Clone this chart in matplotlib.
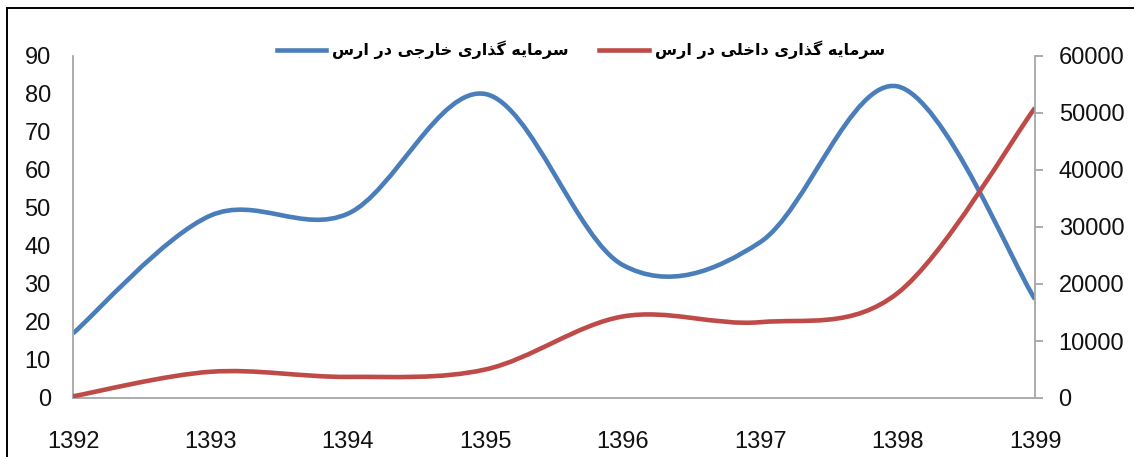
import numpy as np
import matplotlib.pyplot as plt
from matplotlib.path import Path
from matplotlib.patches import PathPatch, Rectangle
from matplotlib.lines import Line2D

# data
years = [1392, 1393, 1394, 1395, 1396, 1397, 1398, 1399]
foreign = [17, 48, 48.5, 80, 35, 41, 82, 26]          # left axis
domestic = [300, 4600, 3700, 5000, 14300, 13300, 18400, 50900]  # right axis
label_foreign = "سرمایه گذاری خارجی در ارس"
label_domestic = "سرمایه گذاری داخلی در ارس"

blue = "#4a7ebb"
red = "#be4b48"
grey = "#a6a6a6"

# matplotlib has no arabic shaping, so pick presentation forms by hand
# (isolated, final, initial, medial) ; None = letter joins only to the right
forms = {
    "س": ("\ufeb1", "\ufeb2", "\ufeb3", "\ufeb4"),
    "ر": ("\ufead", "\ufeae", None, None),
    "م": ("\ufee1", "\ufee2", "\ufee3", "\ufee4"),
    "ا": ("\ufe8d", "\ufe8e", None, None),
    "ی": ("\ufbfc", "\ufbfd", "\ufbfe", "\ufbff"),
    "ه": ("\ufee9", "\ufeea", "\ufeeb", "\ufeec"),
    "گ": ("\ufb92", "\ufb93", "\ufb94", "\ufb95"),
    "ذ": ("\ufeab", "\ufeac", None, None),
    "خ": ("\ufea5", "\ufea6", "\ufea7", "\ufea8"),
    "ج": ("\ufe9d", "\ufe9e", "\ufe9f", "\ufea0"),
    "د": ("\ufea9", "\ufeaa", None, None),
    "ل": ("\ufedd", "\ufede", "\ufedf", "\ufee0"),
}


def shape(text):
    out = []
    for i, ch in enumerate(text):
        if ch not in forms:
            out.append(ch)
            continue
        prev = text[i - 1] if i > 0 else " "
        nxt = text[i + 1] if i < len(text) - 1 else " "
        join_prev = prev in forms and forms[prev][2] is not None
        join_next = nxt in forms and forms[ch][2] is not None
        f = forms[ch]
        if join_prev and join_next:
            out.append(f[3])
        elif join_prev:
            out.append(f[1])
        elif join_next:
            out.append(f[2])
        else:
            out.append(f[0])
    return "".join(out)[::-1]


def smooth_path(xs, ys):
    # cubic bezier through the points (excel style smoothed line)
    p = np.column_stack([xs, ys]).astype(float)
    n = len(p)
    verts = [p[0]]
    codes = [Path.MOVETO]
    for i in range(n - 1):
        a = p[i - 1] if i > 0 else p[i]
        d = p[i + 2] if i + 2 < n else p[i + 1]
        c1 = p[i] + (p[i + 1] - a) / 6
        c2 = p[i + 1] - (d - p[i]) / 6
        verts += [c1, c2, p[i + 1]]
        codes += [Path.CURVE4] * 3
    return Path(verts, codes)


plt.rcParams["font.family"] = ["Liberation Sans", "DejaVu Sans"]

fig = plt.figure(figsize=(11.34, 4.57), dpi=100)
ax = fig.add_axes([73 / 1134, 1 - 398 / 457, (1035 - 73) / 1134, 342 / 457])
ax2 = ax.twinx()

ax.add_patch(PathPatch(smooth_path(years, foreign), fill=False,
                       edgecolor=blue, lw=3.3, capstyle="butt"))
ax2.add_patch(PathPatch(smooth_path(years, domestic), fill=False,
                        edgecolor=red, lw=3.3, capstyle="butt"))

ax.set_xlim(1392, 1399)
ax.set_ylim(0, 90)
ax2.set_ylim(0, 60000)
ax.set_xticks(years)
ax.set_yticks(range(0, 91, 10))
ax2.set_yticks(range(0, 60001, 10000))

for a in (ax, ax2):
    a.spines["top"].set_visible(False)
    for s in ("left", "right", "bottom"):
        a.spines[s].set_color(grey)
        a.spines[s].set_linewidth(1.3)
ax.spines["right"].set_visible(False)
ax2.spines["left"].set_visible(False)
ax2.spines["bottom"].set_visible(False)

ax.tick_params(axis="x", length=0, pad=24, labelsize=17, labelcolor="#111111")
ax.tick_params(axis="y", length=0, pad=16, labelsize=17, labelcolor="#111111")
ax2.tick_params(axis="y", length=6, width=1.3, color=grey, pad=11,
                labelsize=17, labelcolor="#111111")

handles = [Line2D([], [], color=blue, lw=3.3), Line2D([], [], color=red, lw=3.3)]
fig.legend(handles, [shape(label_foreign), shape(label_domestic)],
           loc="center", bbox_to_anchor=(581 / 1134, 1 - 50 / 457), ncol=2,
           frameon=False, handlelength=3.1, handletextpad=0.4,
           columnspacing=1.9, prop={"family": ["DejaVu Sans"], "weight": "bold", "size": 11.5})

# outer frame of the original image
fig.patches.append(Rectangle((7 / 1134, -0.2), 1.5, 1.2 - 8 / 457, fill=False,
                             edgecolor="black", lw=1.4, transform=fig.transFigure))

fig.savefig("out.png", dpi=100)
